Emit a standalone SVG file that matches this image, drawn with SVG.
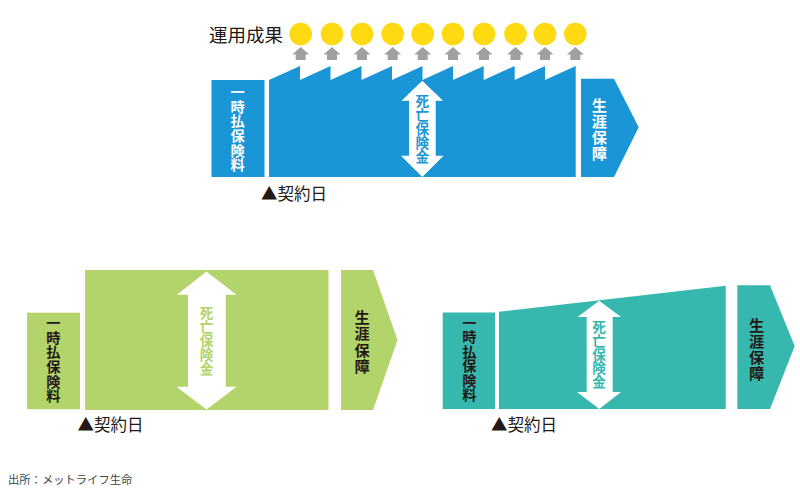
<svg xmlns="http://www.w3.org/2000/svg" width="800" height="492" viewBox="0 0 800 492">
<style>
text{font-family:"Noto Sans CJK JP","Noto Sans",sans-serif}
.v{text-anchor:middle;font-weight:700}
.p{font-size:14.2px}
.l{font-size:15.2px}
.d{font-size:13.6px}
.w{fill:#fff}.k{fill:#231815}
.t{font-size:16.5px;fill:#231815}
.b{fill:#1a96d6}.g{fill:#b2d46a}.c{fill:#36b8ae}
.coin{fill:#ffda12}.up{fill:#a0a0a0}
</style>
<defs>
<polygon id="up" points="0,0 8.5,7.5 5,7.5 5,13 -5,13 -5,7.5 -8.5,7.5"/>
</defs>
<g id="coins">
<circle class="coin" cx="300.7" cy="34" r="11.3"/><circle class="coin" cx="332" cy="34" r="11.3"/><circle class="coin" cx="362" cy="34" r="11.3"/><circle class="coin" cx="392.7" cy="34" r="11.3"/><circle class="coin" cx="422.7" cy="34" r="11.3"/><circle class="coin" cx="453" cy="34" r="11.3"/><circle class="coin" cx="484" cy="34" r="11.3"/><circle class="coin" cx="515.5" cy="34" r="11.3"/><circle class="coin" cx="545" cy="34" r="11.3"/><circle class="coin" cx="575.3" cy="34" r="11.3"/>
</g>
<g id="coin-arrows" class="up">
<use href="#up" x="300.7" y="47"/><use href="#up" x="332" y="47"/><use href="#up" x="362" y="47"/><use href="#up" x="392.7" y="47"/><use href="#up" x="422.7" y="47"/><use href="#up" x="453" y="47"/><use href="#up" x="484" y="47"/><use href="#up" x="515.5" y="47"/><use href="#up" x="545" y="47"/><use href="#up" x="575.3" y="47"/>
</g>
<g id="top-title"><text x="209" y="42" font-size="18.5" class="k">運用成果</text></g>
<g id="top-premium">
<rect class="b" x="211.5" y="80" width="53" height="97"/>
<text class="v p w" x="237.7 237.7 237.7 237.7 237.7 237.7" y="97 111.7 126.4 141.1 155.8 170.3">一時払保険料</text>
</g>
<g id="top-main">
<polygon class="b" points="269,80 300,66 300,80 330.5,66 330.5,80 361.5,66 361.5,80 392,66 392,80 422.5,66 422.5,80 453,66 453,80 483.7,66 483.7,80 514.7,66 514.7,80 545,66 545,80 575.7,66 575.7,177 269,177"/>
<polygon class="w" points="422.3,80.7 443,100.7 435.7,100.7 435.7,155.7 443.5,155.7 422.3,177 401,155.7 409,155.7 409,100.7 401.5,100.7"/>
<text class="v d b" x="422.3 422.3 422.3 422.3 422.3" y="105.7 119.9 134 148.2 162.3">死亡保険金</text>
</g>
<g id="top-life">
<polygon class="b" points="581,78.7 614,78.7 638.7,127.3 614,177 581,177"/>
<text class="v l w" x="599.3 599.3 599.3 599.3" y="110.5 126.6 142.7 158.8">生涯保障</text>
</g>
<g id="top-date"><text class="t" x="261" y="200">▲契約日</text></g>

<g id="left-premium">
<rect class="g" x="27" y="312.7" width="53" height="96.5"/>
<text class="v p k" x="53.3 53.3 53.3 53.3 53.3 53.3" y="328 342.7 357.4 372.1 386.8 401">一時払保険料</text>
</g>
<g id="left-main">
<rect class="g" x="85" y="270" width="243.5" height="140"/>
<polygon class="w" points="206.5,271.5 236.5,294.7 225.7,294.7 225.7,386.7 236.5,386.7 206.5,409.5 176.5,386.7 188,386.7 188,294.7 177,294.7"/>
<text class="v d g" x="206.5 206.5 206.5 206.5 206.5" y="317.7 331.9 346 360.2 374.3">死亡保険金</text>
</g>
<g id="left-life">
<polygon class="g" points="341,270 373,270 397.5,340 373,410 341,410"/>
<text class="v l k" x="362 362 362 362" y="322.5 339 355.5 372">生涯保障</text>
</g>
<g id="left-date"><text class="t" x="77.5" y="431">▲契約日</text></g>

<g id="right-premium">
<rect class="c" x="442.7" y="312.5" width="52.3" height="96.5"/>
<text class="v p k" x="469.3 469.3 469.3 469.3 469.3 469.3" y="328 342.4 356.8 371.2 385.6 399.5">一時払保険料</text>
</g>
<g id="right-main">
<polygon class="c" points="499,311.7 725.7,285.7 725.7,409 499,409"/>
<polygon class="w" points="599.3,300.7 621,317 612.7,317 612.7,392 621,392 599.3,409 577,392 586.7,392 586.7,317 577.5,317"/>
<text class="v d c" x="599 599 599 599 599" y="331.7 345.6 359.5 373.4 387.3">死亡保険金</text>
</g>
<g id="right-life">
<polygon class="c" points="737.3,285.3 770,285.3 794.7,346 770,409 737.3,409"/>
<text class="v l k" x="756.7 756.7 756.7 756.7" y="330.5 346.6 362.7 378.8">生涯保障</text>
</g>
<g id="right-date"><text class="t" x="491" y="431">▲契約日</text></g>
<g id="source"><text x="8" y="484" font-size="11.3" fill="#444">出所：メットライフ生命</text></g>
</svg>
